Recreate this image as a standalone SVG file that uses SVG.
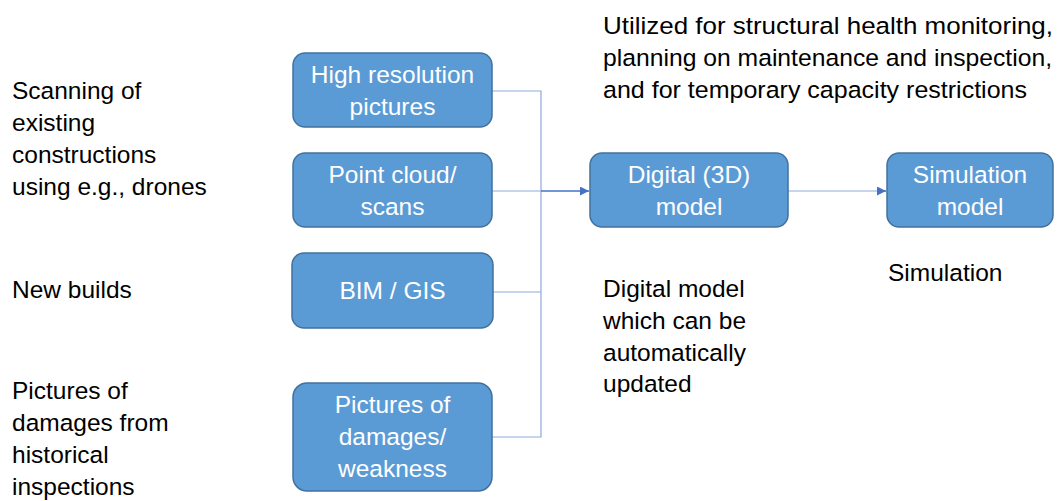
<svg xmlns="http://www.w3.org/2000/svg" width="1059" height="501" viewBox="0 0 1059 501">
  <style>
    .box { fill: #5b9bd5; stroke: #41719c; stroke-width: 1.5; }
    .lbl { font-family: "Liberation Sans", Arial, sans-serif; font-size: 24.5px; fill: #ffffff; text-anchor: middle; }
    .note { font-family: "Liberation Sans", Arial, sans-serif; font-size: 24.5px; fill: #000000; }
    .wire { fill: none; stroke: #8eaadb; stroke-width: 1.2; }
    .feed { fill: none; stroke: #4472c4; stroke-width: 1.5; }
  </style>
  <defs>
    <marker id="arrow" viewBox="0 0 10 10" refX="10" refY="5" markerWidth="9" markerHeight="9" markerUnits="userSpaceOnUse" orient="auto">
      <path d="M0,0 L10,5 L0,10 z" fill="#4472c4"/>
    </marker>
  </defs>
  <rect width="1059" height="501" fill="#ffffff"/>

  <!-- side notes -->
  <g id="notes">
    <text class="note" x="12" y="99">Scanning of</text>
    <text class="note" x="12" y="131">existing</text>
    <text class="note" x="12" y="163">constructions</text>
    <text class="note" x="12" y="195">using e.g., drones</text>
    <text class="note" x="12" y="298">New builds</text>
    <text class="note" x="12" y="399">Pictures of</text>
    <text class="note" x="12" y="431">damages from</text>
    <text class="note" x="12" y="463">historical</text>
    <text class="note" x="12" y="495">inspections</text>
    <text class="note" x="603" y="34" textLength="450" lengthAdjust="spacingAndGlyphs">Utilized for structural health monitoring,</text>
    <text class="note" x="603" y="66" textLength="449" lengthAdjust="spacingAndGlyphs">planning on maintenance and inspection,</text>
    <text class="note" x="603" y="98" textLength="424" lengthAdjust="spacingAndGlyphs">and for temporary capacity restrictions</text>
    <text class="note" x="603" y="297">Digital model</text>
    <text class="note" x="603" y="329">which can be</text>
    <text class="note" x="603" y="361">automatically</text>
    <text class="note" x="603" y="392">updated</text>
    <text class="note" x="888" y="281">Simulation</text>
  </g>

  <!-- connectors -->
  <g id="connectors">
    <path class="wire" d="M492,91 H541 V437 H492"/>
    <path class="wire" d="M492,191 H541"/>
    <path class="wire" d="M493,292 H541"/>
    <path class="feed" d="M541,191 H589" marker-end="url(#arrow)"/>
    <path class="wire" d="M788,191 H878"/>
    <path class="feed" d="M877,191 H886" marker-end="url(#arrow)"/>
  </g>

  <g id="high-res">
    <rect class="box" x="293" y="53" width="199" height="74" rx="12"/>
    <text class="lbl" x="392.5" y="83">High resolution</text>
    <text class="lbl" x="392.5" y="115">pictures</text>
  </g>
  <g id="point-cloud">
    <rect class="box" x="293" y="153" width="199" height="74" rx="12"/>
    <text class="lbl" x="392.5" y="183">Point cloud/</text>
    <text class="lbl" x="392.5" y="215">scans</text>
  </g>
  <g id="bim-gis">
    <rect class="box" x="292" y="253" width="201" height="75" rx="12"/>
    <text class="lbl" x="392.5" y="299">BIM / GIS</text>
  </g>
  <g id="damages">
    <rect class="box" x="293" y="383" width="199" height="108" rx="14"/>
    <text class="lbl" x="392.5" y="413">Pictures of</text>
    <text class="lbl" x="392.5" y="445">damages/</text>
    <text class="lbl" x="392.5" y="477">weakness</text>
  </g>
  <g id="digital-model">
    <rect class="box" x="590" y="153" width="198" height="74" rx="12"/>
    <text class="lbl" x="689" y="183">Digital (3D)</text>
    <text class="lbl" x="689" y="215">model</text>
  </g>
  <g id="simulation-model">
    <rect class="box" x="887" y="153" width="166" height="74" rx="12"/>
    <text class="lbl" x="970" y="183">Simulation</text>
    <text class="lbl" x="970" y="215">model</text>
  </g>
</svg>
